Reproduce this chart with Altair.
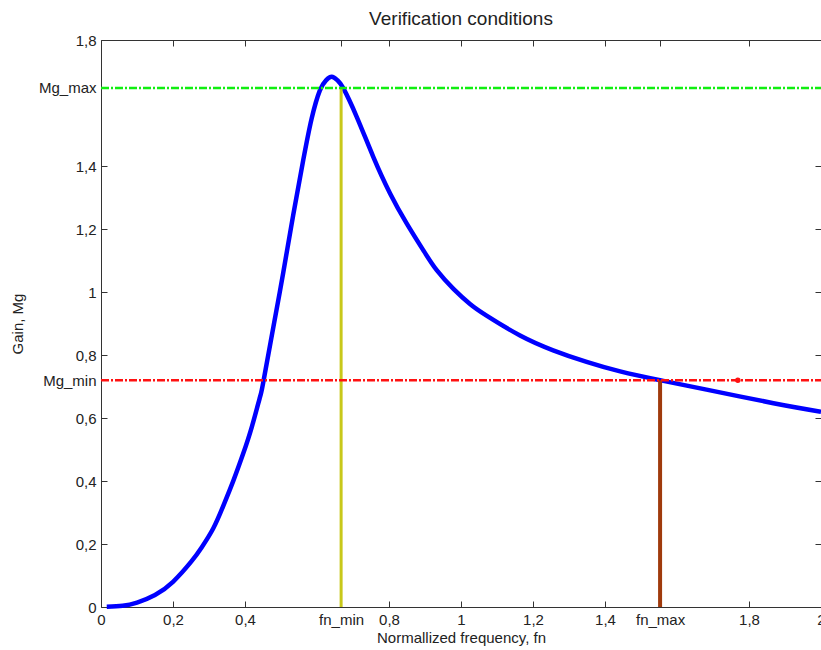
import altair as alt
import pandas as pd

# Gain curve
fn_curve = [0.016, 0.06, 0.10, 0.15, 0.20, 0.25, 0.28, 0.312, 0.34, 0.368,
            0.395, 0.419, 0.442, 0.451, 0.479, 0.506, 0.534, 0.562, 0.585, 0.608,
            0.625, 0.641, 0.657, 0.673, 0.710, 0.756, 0.803, 0.849, 0.895, 0.932,
            0.979, 1.025, 1.071, 1.164, 1.256, 1.349, 1.442, 1.553, 1.682, 1.868, 2.0]
mg_curve = [0.001, 0.004, 0.014, 0.038, 0.080, 0.143, 0.190, 0.250, 0.322, 0.402,
            0.487, 0.572, 0.668, 0.715, 0.890, 1.060, 1.245, 1.420, 1.550, 1.640,
            1.672, 1.683, 1.672, 1.647, 1.557, 1.430, 1.313, 1.218, 1.133, 1.070,
            1.010, 0.962, 0.925, 0.862, 0.815, 0.778, 0.748, 0.720, 0.690, 0.647, 0.620]

fn_min = 0.667
fn_max = 1.553
mg_min = 0.72
mg_max = 1.648
marker_fn = [1.769]
marker_mg = [0.72]

x_ticks = [0, 0.2, 0.4, fn_min, 0.8, 1, 1.2, 1.4, fn_max, 1.8, 2]
y_ticks = [0, 0.2, 0.4, 0.6, mg_min, 0.8, 1, 1.2, 1.4, mg_max, 1.8]

FONT = "Liberation Sans"
TXT = "#222222"
TICK = "#333333"

xs = alt.Scale(domain=[0, 2], nice=False, zero=False)
ys = alt.Scale(domain=[0, 1.8], nice=False, zero=False)

xlab = (f"abs(datum.value-{fn_min})<0.001 ? 'fn_min' : "
        f"abs(datum.value-{fn_max})<0.001 ? 'fn_max' : "
        "replace(format(datum.value, '~g'), '.', ',')")
ylab = (f"abs(datum.value-{mg_min})<0.001 ? 'Mg_min' : "
        f"abs(datum.value-{mg_max})<0.001 ? 'Mg_max' : "
        "replace(format(datum.value, '~g'), '.', ',')")

common_axis = dict(domain=False, ticks=False, grid=True, gridDash=[6, 3000],
                   gridColor=TICK, gridWidth=1, gridOpacity=1,
                   labelFont=FONT, labelFontSize=15, labelColor=TXT,
                   titleFont=FONT, titleFontSize=15, titleColor=TXT,
                   titleFontWeight="normal", labelFlush=False, labelOverlap=False)

x_bottom = alt.Axis(orient="bottom", values=x_ticks, labelExpr=xlab, labelPadding=5,
                    title="Normallized frequency, fn", titlePadding=3, **common_axis)
y_left = alt.Axis(orient="left", values=y_ticks, labelExpr=ylab, labelPadding=5,
                  title="Gain, Mg", titlePadding=13, **common_axis)
x_top = alt.Axis(orient="top", values=x_ticks, labels=False, title=None,
                 domain=False, ticks=False, grid=True, gridDash=[6, 3000],
                 gridColor=TICK, gridWidth=1, gridOpacity=1)
y_right = alt.Axis(orient="right", values=y_ticks, labels=False, title=None,
                   domain=False, ticks=False, grid=True, gridDash=[6, 3000],
                   gridColor=TICK, gridWidth=1, gridOpacity=1)

curve_df = pd.DataFrame({"fn": fn_curve, "mg": mg_curve})

curve = alt.Chart(curve_df).mark_line(color="#0000ff", strokeWidth=4.5,
                                      interpolate="natural").encode(
    x=alt.X("fn:Q", scale=xs, axis=x_bottom),
    y=alt.Y("mg:Q", scale=ys, axis=y_left),
)

frame_ticks = alt.Chart(curve_df).mark_line(strokeOpacity=0).encode(
    x=alt.X("fn:Q", scale=xs, axis=x_top),
    y=alt.Y("mg:Q", scale=ys, axis=y_right),
)

green_df = pd.DataFrame({"x0": [0], "x1": [2], "y": [mg_max]})
red_df = pd.DataFrame({"x0": [0], "x1": [2], "y": [mg_min]})
yellow_df = pd.DataFrame({"x": [fn_min], "y0": [0], "y1": [mg_max]})
brown_df = pd.DataFrame({"x": [fn_max], "y0": [0], "y1": [mg_min]})
dot_df = pd.DataFrame({"x": marker_fn, "y": marker_mg})

green = alt.Chart(green_df).mark_rule(color="#11ee11", strokeWidth=2.5,
                                      strokeDash=[8, 2, 2, 2]).encode(
    x=alt.X("x0:Q", scale=xs, axis=None), x2="x1:Q",
    y=alt.Y("y:Q", scale=ys, axis=None))
red = alt.Chart(red_df).mark_rule(color="#ff1111", strokeWidth=2.5,
                                  strokeDash=[8, 2, 2, 2]).encode(
    x=alt.X("x0:Q", scale=xs, axis=None), x2="x1:Q",
    y=alt.Y("y:Q", scale=ys, axis=None))
yellow = alt.Chart(yellow_df).mark_rule(color="#c8c81a", strokeWidth=3).encode(
    x=alt.X("x:Q", scale=xs, axis=None),
    y=alt.Y("y0:Q", scale=ys, axis=None), y2="y1:Q")
brown = alt.Chart(brown_df).mark_rule(color="#a03a0c", strokeWidth=4).encode(
    x=alt.X("x:Q", scale=xs, axis=None),
    y=alt.Y("y0:Q", scale=ys, axis=None), y2="y1:Q")
dot = alt.Chart(dot_df).mark_point(filled=True, color="#ff1111", size=30, opacity=1).encode(
    x=alt.X("x:Q", scale=xs, axis=None),
    y=alt.Y("y:Q", scale=ys, axis=None))

chart = alt.layer(curve, frame_ticks, yellow, brown, green, red, dot).resolve_axis(
    x="independent", y="independent"
).properties(
    width=720, height=567,
    title=alt.TitleParams("Verification conditions", font=FONT, fontSize=19,
                          fontWeight="normal", color=TXT, offset=4),
    autosize=alt.AutoSizeParams(type="none"),
    padding={"left": 101, "top": 40, "right": 0, "bottom": 43},
).configure_view(stroke=TICK, strokeWidth=1)

chart.save("out.html", embed_options={"renderer": "svg", "actions": False})
